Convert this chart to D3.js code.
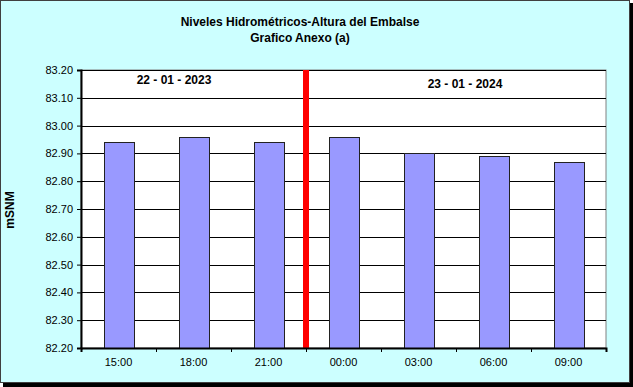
<!DOCTYPE html>
<html>
<head>
<meta charset="utf-8">
<script src="https://cdn.jsdelivr.net/npm/d3@7"></script>
<style>
  body { margin: 0; background: #fff; }
  svg { display: block; font-family: Arial, "Liberation Sans", sans-serif; }
</style>
</head>
<body>
<svg width="633" height="387"></svg>
<script>
const hours = ["15:00", "18:00", "21:00", "00:00", "03:00", "06:00", "09:00"];
const levels = [82.94, 82.96, 82.94, 82.96, 82.90, 82.89, 82.87];
const yTicks = [82.2, 82.3, 82.4, 82.5, 82.6, 82.7, 82.8, 82.9, 83.0, 83.1, 83.2];
const titleLines = ["Niveles Hidrométricos-Altura del Embalse", "Grafico Anexo (a)"];
const dateLabels = ["22 - 01 - 2023", "23 - 01 - 2024"];
const dateAt = [1.24, 5.12]; // position in category units
const splitAfter = 3; // red line between 21:00 and 00:00

const margin = { top: 70, right: 27, bottom: 39, left: 81 };
const W = 633, H = 387;
const width = W - margin.left - margin.right;
const height = H - margin.top - margin.bottom;

const svg = d3.select("svg");

// frame + shadow
svg.append("rect").attr("x", 3).attr("y", 3).attr("width", 630).attr("height", 384).attr("fill", "#000");
svg.append("rect").attr("x", 0.5).attr("y", 0.5).attr("width", 629).attr("height", 382)
  .attr("fill", "#ccffff").attr("stroke", "#404040");

// title
svg.append("g").selectAll("text").data(titleLines).enter().append("text")
  .attr("x", 300).attr("y", (d, i) => 26 + i * 16)
  .attr("text-anchor", "middle")
  .style("font-size", "12px").style("font-weight", "bold")
  .text(d => d);

const g = svg.append("g").attr("transform", `translate(${margin.left},${margin.top})`);

const x = d3.scaleBand().domain(hours).range([0, width]).paddingInner(0.6).paddingOuter(0.3);
const xb = d3.scaleLinear().domain([0, hours.length]).range([0, width]);
const y = d3.scaleLinear().domain([82.2, 83.2]).range([height, 0]);

g.append("rect").attr("width", width).attr("height", height).attr("fill", "#fff")
  .attr("stroke", "#808080");

// gridlines
g.append("g").selectAll("line").data(yTicks).enter().append("line")
  .attr("x1", 0).attr("x2", width)
  .attr("y1", d => Math.round(y(d)) + 0.5).attr("y2", d => Math.round(y(d)) + 0.5)
  .attr("stroke", "#000").attr("stroke-width", 1);

// bars
g.append("g").selectAll("rect").data(levels).enter().append("rect")
  .attr("x", (d, i) => Math.round(x(hours[i])) + 0.5)
  .attr("y", d => Math.round(y(d)) + 0.5)
  .attr("width", x.bandwidth())
  .attr("height", d => height - Math.round(y(d)))
  .attr("fill", "#9999ff").attr("stroke", "#222").attr("stroke-width", 1);

// red divider
g.append("line")
  .attr("x1", xb(splitAfter)).attr("x2", xb(splitAfter))
  .attr("y1", 0).attr("y2", height)
  .attr("stroke", "#ff0000").attr("stroke-width", 6);

// date labels
g.selectAll(".date").data(dateLabels).enter().append("text")
  .attr("class", "date")
  .attr("x", (d, i) => xb(dateAt[i]))
  .attr("y", (d, i) => i === 0 ? 14 : 18)
  .attr("text-anchor", "middle")
  .style("font-size", "12px").style("font-weight", "bold")
  .text(d => d);

// y axis
const yAxis = g.append("g").call(d3.axisLeft(y).tickValues(yTicks).tickSize(4).tickPadding(4)
  .tickFormat(d3.format(".2f")));
yAxis.select(".domain").attr("stroke-width", 2);
yAxis.selectAll("text").style("font-size", "11px").style("font-family", "Arial, 'Liberation Sans', sans-serif");

// x axis
const xAxis = g.append("g").attr("transform", `translate(0,${height})`)
  .call(d3.axisBottom(xb).tickValues(d3.range(hours.length + 1)).tickSize(4).tickFormat(""));
xAxis.select(".domain").attr("stroke-width", 2);
g.append("g").selectAll("text").data(hours).enter().append("text")
  .attr("x", d => x(d) + x.bandwidth() / 2)
  .attr("y", height + 18)
  .attr("text-anchor", "middle")
  .style("font-size", "11px")
  .text(d => d);

// y title
svg.append("text")
  .attr("transform", "translate(14,210) rotate(-90)")
  .attr("text-anchor", "middle")
  .style("font-size", "12px").style("font-weight", "bold")
  .text("mSNM");
</script>
</body>
</html>
